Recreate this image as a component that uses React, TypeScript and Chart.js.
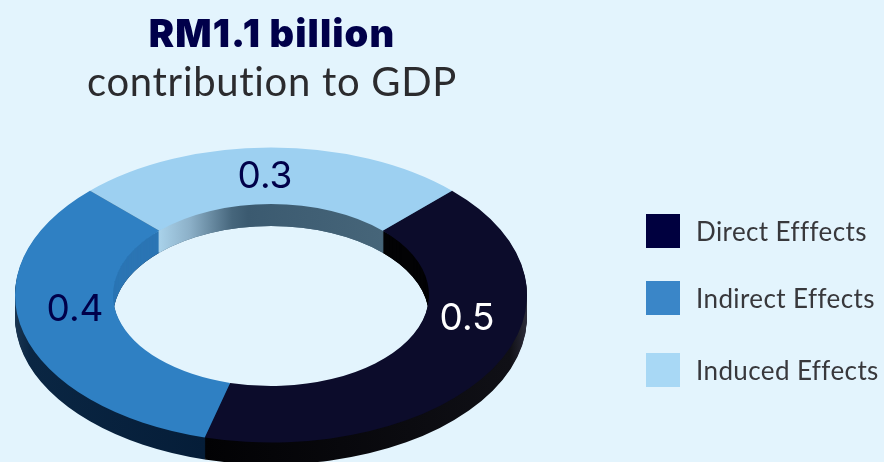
import React, { useEffect, useRef } from "react";
import { Chart, ArcElement, DoughnutController } from "chart.js";

Chart.register(ArcElement, DoughnutController);

// GDP contribution in RM billion, one ring segment per effect type
const categories = ["Direct Efffects", "Indirect Effects", "Induced Effects"];
const values = [0.5, 0.4, 0.3];
const valueLabels = ["0.5", "0.4", "0.3"];

const faceColors = ["#0c0c2b", "#2f80c3", "#9dd0f1"];
const swatchColors = ["#00003f", "#3a86c8", "#a8d8f5"];
const labelColors = ["#ffffff", "#00004a", "#00004a"];
const labelSpots = [
  { x: 467, y: 319 },
  { x: 75, y: 310 },
  { x: 265, y: 177 },
];

const PAGE_BG = "#e3f4fd";
const TEXT_COLOR = "#2b2b2e";
const LEGEND_TEXT = "#38383c";
const NAVY = "#00004a";

// Projection of the flat ring onto the tilted disc
const DISC = { cx: 271, cy: 295, rx: 256, ry: 147.5, depth: 22 };
const CUTOUT = 0.617;

function drawRingLayers(ctx: CanvasRenderingContext2D, arcs: any[], fills: any[], project: (d: number) => void) {
  for (let d = DISC.depth; d >= 1; d--) {
    ctx.save();
    project(d);
    arcs.forEach((arc, i) => {
      const layer = Object.create(arc);
      layer.options = { ...arc.options, backgroundColor: fills[i], borderWidth: 0 };
      ArcElement.prototype.draw.call(layer, ctx);
    });
    ctx.restore();
  }
}

const tiltedRing = {
  id: "tiltedRing",
  beforeDatasetsDraw(chart: any) {
    const ctx: CanvasRenderingContext2D = chart.ctx;
    const arcs = chart.getDatasetMeta(0).data;
    const { x, y, outerRadius: R } = arcs[0];
    const sx = DISC.rx / R;
    const sy = DISC.ry / R;
    const project = (d: number) => {
      ctx.translate(DISC.cx, DISC.cy + d);
      ctx.scale(sx, sy);
      ctx.translate(-x, -y);
    };
    const localX = (px: number) => x + (px - DISC.cx) / sx;
    const span = (stops: [number, string][]) => {
      const g = ctx.createLinearGradient(localX(stops[0][0]), y, localX(stops[stops.length - 1][0]), y);
      const a = stops[0][0];
      const b = stops[stops.length - 1][0];
      stops.forEach(([px, c]) => g.addColorStop((px - a) / (b - a), c));
      return g;
    };

    // Outer rim
    const rimDark = span([[205, "#020204"], [410, "#0b0b10"], [510, "#101016"], [527, "#2c2c3a"]]);
    const rimBlue = span([[15, "#1a3550"], [30, "#0a2643"], [205, "#051d38"]]);
    drawRingLayers(ctx, arcs, [rimDark, rimBlue, "#3f5f75"], project);

    // Inner wall, only seen through the opening
    const rx = DISC.rx * CUTOUT;
    const ry = DISC.ry * CUTOUT;
    const wallLight = span([[159, "#a9d2ea"], [190, "#8cb0c8"], [232, "#46667c"], [248, "#3b5a70"], [383, "#466579"]]);
    ctx.save();
    ctx.beginPath();
    ctx.ellipse(DISC.cx, DISC.cy, rx, ry, 0, 0, Math.PI * 2);
    ctx.clip();
    drawRingLayers(ctx, arcs, ["#030305", "#2b75b4", wallLight], project);
    ctx.restore();

    // Top face: the controller draws it under this transform
    ctx.save();
    project(0);
  },
  afterDatasetsDraw(chart: any) {
    const ctx: CanvasRenderingContext2D = chart.ctx;
    ctx.restore();
    ctx.save();
    ctx.font = "400 37px Inter, sans-serif";
    ctx.textAlign = "center";
    ctx.textBaseline = "middle";
    valueLabels.forEach((text, i) => {
      ctx.fillStyle = labelColors[i];
      ctx.fillText(text, labelSpots[i].x, labelSpots[i].y);
    });
    ctx.restore();
  },
};

const legendTops = [214, 281, 353];

export default function App() {
  const canvasRef = useRef<HTMLCanvasElement>(null);

  useEffect(() => {
    const chart = new Chart(canvasRef.current!, {
      type: "doughnut",
      data: {
        labels: categories,
        datasets: [{ data: values, backgroundColor: faceColors, borderWidth: 0, clip: false } as any],
      },
      options: {
        responsive: false,
        animation: false,
        rotation: 45,
        cutout: `${CUTOUT * 100}%`,
        plugins: { legend: { display: false }, tooltip: { enabled: false } },
      } as any,
      plugins: [tiltedRing],
    });
    return () => chart.destroy();
  }, []);

  return (
    <div style={{ position: "fixed", left: 0, top: 0, width: 884, height: 462, background: PAGE_BG, overflow: "hidden" }}>
      <canvas ref={canvasRef} width={884} height={462} style={{ position: "absolute", left: 0, top: 0 }} />
      <div style={{ position: "absolute", left: 0, width: 544, top: 9, textAlign: "center", fontFamily: "Lato, sans-serif" }}>
        <div style={{ fontFamily: "Inter, sans-serif", fontSize: 38, fontWeight: 900, lineHeight: "48px", letterSpacing: 1.1, color: NAVY }}>RM1.1 billion</div>
        <div style={{ fontSize: 40, fontWeight: 400, lineHeight: "48px", letterSpacing: 0.7, color: TEXT_COLOR }}>contribution to GDP</div>
      </div>
      {categories.map((name, i) => (
        <div key={name} style={{ position: "absolute", left: 646, top: legendTops[i], height: 34, display: "flex", alignItems: "center" }}>
          <div style={{ width: 34, height: 34, background: swatchColors[i] }} />
          <div style={{ marginLeft: 16, fontFamily: "Lato, sans-serif", fontSize: 26, letterSpacing: 0.4, color: LEGEND_TEXT, whiteSpace: "nowrap" }}>{name}</div>
        </div>
      ))}
    </div>
  );
}
